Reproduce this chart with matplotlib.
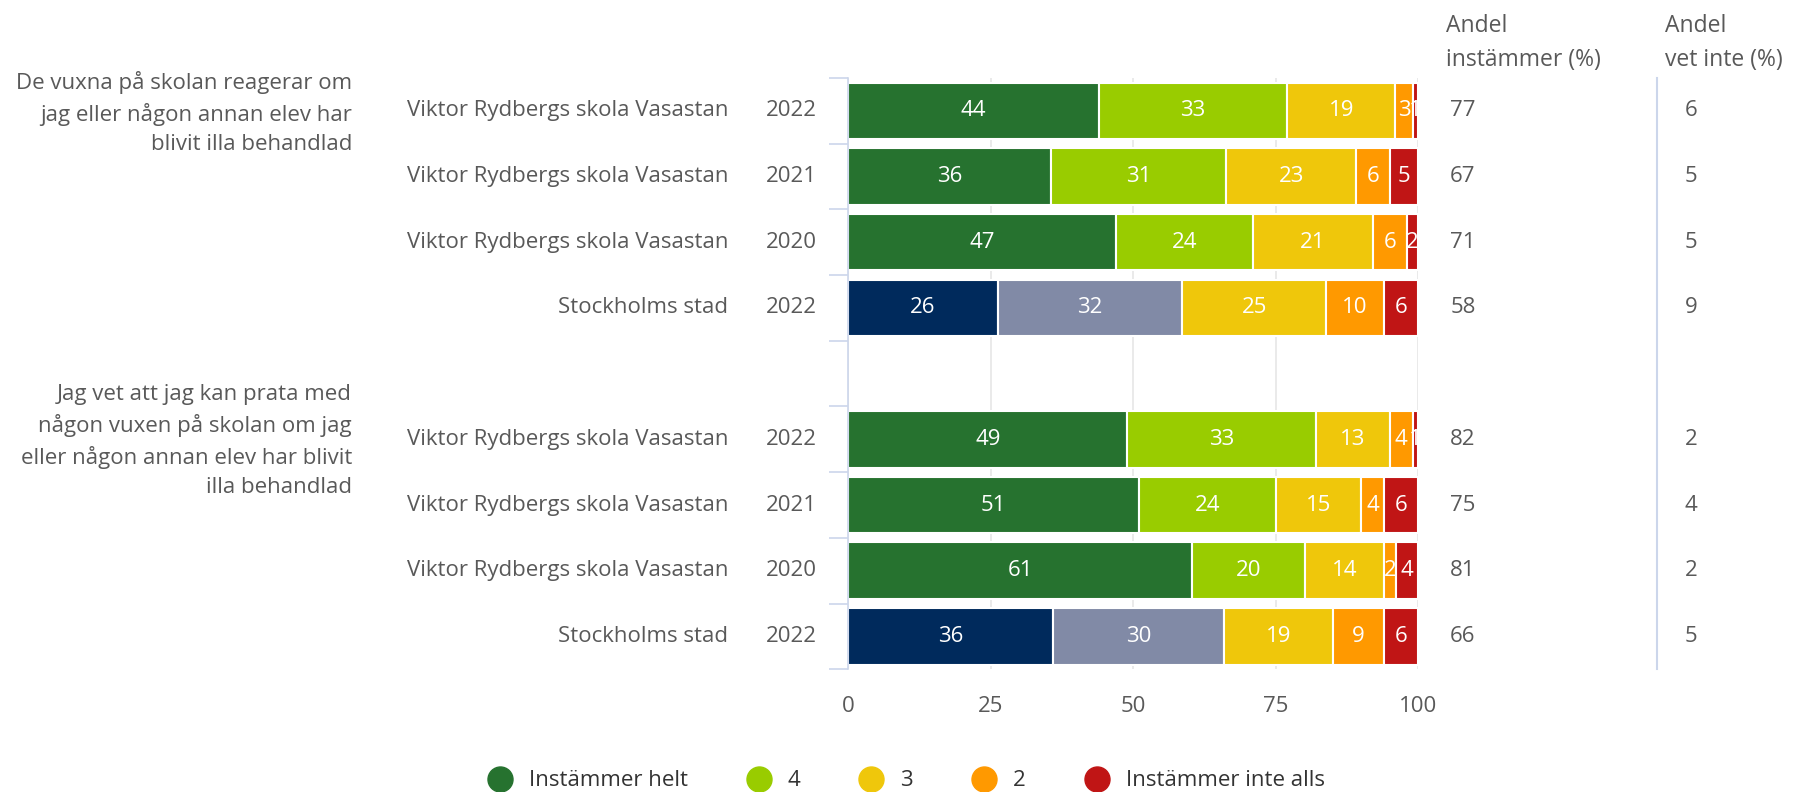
import matplotlib.pyplot as plt
import numpy as np
from matplotlib.lines import Line2D

plt.rcParams['font.family'] = ['Open Sans', 'DejaVu Sans']

questions = ['De vuxna på skolan reagerar om\njag eller någon annan elev har\nblivit illa behandlad',
             'Jag vet att jag kan prata med\nnågon vuxen på skolan om jag\neller någon annan elev har blivit\nilla behandlad']
units = ['Viktor Rydbergs skola Vasastan', 'Viktor Rydbergs skola Vasastan',
         'Viktor Rydbergs skola Vasastan', 'Stockholms stad']
years = ['2022', '2021', '2020', '2022']
categories = ['Instämmer helt', '4', '3', '2', 'Instämmer inte alls']

# answers per row: helt, 4, 3, 2, inte alls
q1_values = [[44, 33, 19, 3, 1],
             [36, 31, 23, 6, 5],
             [47, 24, 21, 6, 2],
             [26, 32, 25, 10, 6]]
q2_values = [[49, 33, 13, 4, 1],
             [51, 24, 15, 4, 6],
             [61, 20, 14, 2, 4],
             [36, 30, 19, 9, 6]]
q1_agree = [77, 67, 71, 58]
q1_dont_know = [6, 5, 5, 9]
q2_agree = [82, 75, 81, 66]
q2_dont_know = [2, 4, 2, 5]

colors = ['#26722f', '#99cc00', '#efc70b', '#ff9900', '#c01515']
city_colors = ['#002a5c', '#818aa6']
text_col = '#595959'
line_col = '#ccd6eb'
fs = 16

fig = plt.figure(figsize=(17.93, 7.92), dpi=100)
ax = fig.add_axes([0.473, 0.155, 0.318, 0.7465])

groups = [(questions[0], q1_values, q1_agree, q1_dont_know, 0),
          (questions[1], q2_values, q2_agree, q2_dont_know, 5)]

for qtext, vals, agree, dk, start in groups:
    for i, row in enumerate(vals):
        y = start + i
        total = sum(row)  # rounded values, bars are drawn as share of 100
        left = 0
        for j, v in enumerate(row):
            w = v / total * 100
            c = colors[j]
            if units[i] == 'Stockholms stad' and j < 2:
                c = city_colors[j]
            ax.barh(y, w, left=left, height=0.86, color=c, edgecolor='white', linewidth=1.5, zorder=2)
            ax.text(left + w / 2, y, str(v), ha='center', va='center', color='white', fontsize=fs, zorder=3)
            left += w
        ax.text(-0.2105, y, units[i], transform=ax.get_yaxis_transform(), ha='right', va='center',
                color=text_col, fontsize=fs)
        ax.text(-0.054, y, years[i], transform=ax.get_yaxis_transform(), ha='right', va='center',
                color=text_col, fontsize=fs)
        ax.text(1.056, y, str(agree[i]), transform=ax.get_yaxis_transform(), ha='left', va='center',
                color=text_col, fontsize=fs)
        ax.text(1.467, y, str(dk[i]), transform=ax.get_yaxis_transform(), ha='left', va='center',
                color=text_col, fontsize=fs)
    ax.text(-0.87, start + 0.03, qtext, transform=ax.get_yaxis_transform(), ha='right', va='center',
            color=text_col, fontsize=fs, linespacing=1.5, multialignment='right')

ax.set_xlim(0, 100)
ax.set_ylim(8.5, -0.5)
ax.set_xticks([0, 25, 50, 75, 100])
ax.tick_params(axis='x', length=0, labelsize=fs, labelcolor=text_col, pad=19)
ax.set_yticks([])
ax.set_yticks(np.arange(-0.5, 9, 1), minor=True)
ax.tick_params(axis='y', which='minor', length=14, color=line_col, width=1.2)
ax.xaxis.grid(True, color='#e6e6e6', linewidth=1.2, zorder=0)
ax.set_axisbelow(True)
for s in ['top', 'right', 'bottom']:
    ax.spines[s].set_visible(False)
ax.spines['left'].set_color(line_col)
ax.spines['left'].set_linewidth(1.2)

# column headers and separator
ax.text(1.049, 1.011, 'Andel\ninstämmer (%)', transform=ax.transAxes, ha='left', va='bottom',
        color=text_col, fontsize=16.5, linespacing=1.55)
ax.text(1.432, 1.011, 'Andel\nvet inte (%)', transform=ax.transAxes, ha='left', va='bottom',
        color=text_col, fontsize=16.5, linespacing=1.55)
ax.plot([1.418, 1.418], [0, 1], transform=ax.transAxes, color=line_col, linewidth=1.5, clip_on=False)

handles = [Line2D([], [], marker='o', linestyle='', markersize=18, color=c) for c in colors]
fig.legend(handles, categories, loc='center', bbox_to_anchor=(0.505, 0.014), ncol=5, frameon=False,
           fontsize=fs, labelcolor='#333333', handlelength=1.2, handletextpad=0.7, columnspacing=2.6)

fig.savefig('out.png', dpi=100)
